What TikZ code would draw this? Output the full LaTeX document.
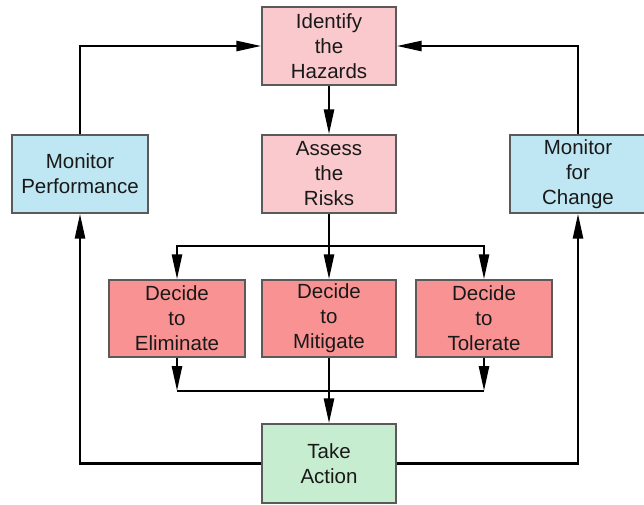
\documentclass[tikz,border=0pt]{standalone}
\usepackage{fontspec}
\setmainfont{Liberation Sans}
\usetikzlibrary{arrows.meta}
\definecolor{pinkA}{HTML}{F9C9CD}
\definecolor{redA}{HTML}{F99393}
\definecolor{blueA}{HTML}{BEE6F3}
\definecolor{greenA}{HTML}{C6EDD0}
\definecolor{edgeA}{HTML}{5A5A5A}
\tikzset{
  box/.style={draw=edgeA, line width=1.3pt, minimum width=134pt, minimum height=78pt,
    align=center, font=\fontsize{20.5}{25}\selectfont, inner sep=0pt, text=black!90},
  conn/.style={line width=2.6pt, black},
  arr/.style={conn, -{Triangle[length=25pt,width=10pt]}},
}
\begin{document}
\begin{tikzpicture}[x=1pt,y=-1pt]
\useasboundingbox (0,0) rectangle (644,504);
\node[box, fill=pinkA] (ident) at (329,46) {Identify\\the\\Hazards};
\node[box, fill=pinkA] (assess) at (329,174) {Assess\\the\\Risks};
\node[box, fill=blueA, minimum width=136pt] (monp) at (80,174) {Monitor\\Performance};
\node[box, fill=blueA, minimum width=136pt] (monc) at (578,174) {Monitor\\for\\Change};
\node[box, fill=redA, minimum width=136pt, minimum height=77pt] (elim) at (177,318.5) {Decide\\to\\Eliminate};
\node[box, fill=redA, minimum height=77pt] (mitig) at (329,318.5) {Decide\\to\\Mitigate};
\node[box, fill=redA, minimum width=136pt, minimum height=77pt] (toler) at (484,318.5) {Decide\\to\\Tolerate};
\node[box, fill=greenA, minimum height=79pt] (take) at (329,463.5) {Take\\Action};
\coordinate (br) at (329,246);
\coordinate (jn) at (329,391);
% top feedback
\draw[arr] (monp.north) |- (ident.west);
\draw[arr] (monc.north) |- (ident.east);
\draw[arr] (ident.south) -- (assess.north);
% branch
\draw[conn] (assess.south) -- (br);
\draw[arr] (br) -| (elim.north);
\draw[arr] (br) -| (toler.north);
\draw[arr] (br) -- (mitig.north);
% join
\draw[arr] (elim.south) -- (elim.south |- jn);
\draw[arr] (toler.south) -- (toler.south |- jn);
\draw[conn] (elim.south |- jn) -- (toler.south |- jn);
\draw[arr] (mitig.south) -- (take.north);
% bottom feedback
\draw[arr] (take.west) -| (monp.south);
\draw[arr] (take.east) -| (monc.south);
\end{tikzpicture}
\end{document}
